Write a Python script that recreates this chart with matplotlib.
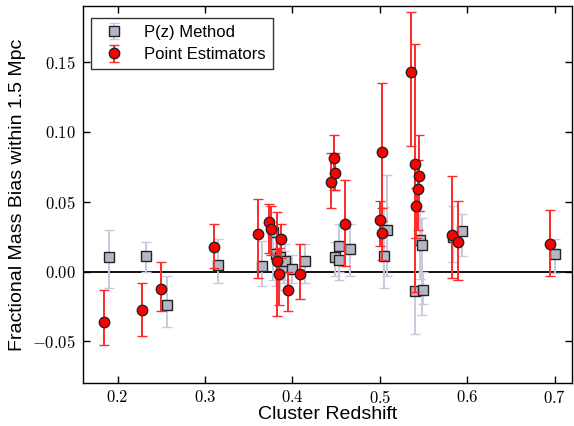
import numpy as np
import matplotlib
matplotlib.use("Agg")
from matplotlib import pyplot as plt
from matplotlib.ticker import FuncFormatter

plt.rcParams["mathtext.fontset"] = "cm"
plt.rcParams["font.family"] = ["Liberation Sans", "DejaVu Sans"]

# P(z) method: redshift, bias, lower bound, upper bound
pz_z = [0.190, 0.233, 0.256, 0.315, 0.365, 0.378, 0.381, 0.386, 0.390, 0.392,
        0.400, 0.414, 0.449, 0.453, 0.4535, 0.466, 0.505, 0.508, 0.5406, 0.5464,
        0.5478, 0.5493, 0.584, 0.594, 0.7005]
pz_y = [0.0103, 0.0113, -0.0237, 0.0048, 0.0039, 0.0283, 0.0127, 0.0103, 0.0030, 0.0077,
        0.0017, 0.0075, 0.0103, 0.0180, 0.0084, 0.0163, 0.0110, 0.0295, -0.0139, 0.0228,
        0.0190, -0.0134, 0.0250, 0.0287, 0.0125]
pz_lo = [-0.0120, 0.0000, -0.0395, -0.0083, -0.0100, -0.0060, -0.0100, -0.0130, -0.0080, -0.0060,
         -0.0080, -0.0083, -0.0030, -0.0060, 0.0000, -0.0030, -0.0120, -0.0030, -0.0448, -0.0050,
         -0.0310, -0.0230, 0.0065, 0.0113, -0.0007]
pz_hi = [0.0295, 0.0213, -0.0029, 0.0233, 0.0216, 0.0335, 0.0250, 0.0230, 0.0150, 0.0200,
         0.0120, 0.0197, 0.0210, 0.0340, 0.0200, 0.0343, 0.0460, 0.0690, 0.0240, 0.0430,
         0.0380, 0.0000, 0.0470, 0.0414, 0.0235]

# Point estimators
pe_z = [0.1845, 0.2274, 0.2502, 0.3104, 0.3603, 0.3728, 0.3755, 0.3820, 0.3850, 0.3869,
        0.3952, 0.4089, 0.4447, 0.4477, 0.4485, 0.4607, 0.4999, 0.5025, 0.5030, 0.5353,
        0.5406, 0.5418, 0.5433, 0.5448, 0.5824, 0.5893, 0.6951]
pe_y = [-0.0364, -0.0275, -0.0122, 0.0175, 0.0271, 0.0355, 0.0307, 0.0077, -0.0017, 0.0233,
        -0.0131, -0.0019, 0.0639, 0.0810, 0.0704, 0.0338, 0.0371, 0.0855, 0.0276, 0.1425,
        0.0767, 0.0472, 0.0592, 0.0685, 0.0261, 0.0213, 0.0197]
pe_lo = [-0.0522, -0.0460, -0.0280, 0.0024, -0.0048, 0.0130, 0.0120, -0.0320, -0.0240, 0.0100,
         -0.0280, -0.0196, 0.0458, 0.0580, 0.0580, 0.0043, 0.0180, 0.0360, 0.0084, 0.0898,
         -0.0144, 0.0240, 0.0300, 0.0430, -0.0043, -0.0060, -0.0031]
pe_hi = [-0.0131, -0.0079, 0.0065, 0.0343, 0.0522, 0.0480, 0.0470, 0.0424, 0.0170, 0.0340,
         0.0000, 0.0197, 0.0846, 0.0977, 0.0846, 0.0652, 0.0503, 0.1348, 0.0455, 0.1860,
         0.1630, 0.0600, 0.0800, 0.0975, 0.0682, 0.0508, 0.0438]


def asym_err(y, lo, hi):
    y, lo, hi = np.asarray(y), np.asarray(lo), np.asarray(hi)
    return np.vstack([y - lo, hi - y])


fig = plt.figure(figsize=(5.74, 4.26), dpi=100)
ax = fig.add_axes([0.144, 0.100, 0.8525, 0.886])

ax.axhline(0, color="black", linewidth=1.3, zorder=1)

ax.errorbar(pz_z, pz_y, yerr=asym_err(pz_y, pz_lo, pz_hi), fmt="s",
            ms=7.5, mfc="#b4b6c8", mec="#222222", mew=1.0,
            ecolor="#c9c9dd", elinewidth=1.4, capsize=3.5, capthick=1.4,
            label="P(z) Method", zorder=2)
ax.errorbar(pe_z, pe_y, yerr=asym_err(pe_y, pe_lo, pe_hi), fmt="o",
            ms=7.5, mfc="#ff0000", mec="#222222", mew=1.0,
            ecolor="#ff2a2a", elinewidth=1.4, capsize=3.5, capthick=1.4,
            label="Point Estimators", zorder=3)

ax.set_xlim(0.16, 0.72)
ax.set_ylim(-0.08, 0.19)
ax.set_xticks([0.2, 0.3, 0.4, 0.5, 0.6, 0.7])
ax.set_yticks([-0.05, 0.0, 0.05, 0.10, 0.15])
ax.xaxis.set_major_formatter(FuncFormatter(lambda v, p: f"${v:.1f}$"))
ax.yaxis.set_major_formatter(FuncFormatter(lambda v, p: f"${v:.2f}$"))
ax.tick_params(direction="in", length=5, width=1.0, top=True, right=True,
               labelsize=12, pad=5)
ax.tick_params(axis="x", pad=4)
for s in ax.spines.values():
    s.set_linewidth(1.0)

ax.set_xlabel("Cluster Redshift", fontsize=14, labelpad=0)
ax.set_ylabel("Fractional Mass Bias within 1.5 Mpc", fontsize=14, labelpad=4)

leg = ax.legend(loc="upper left", fancybox=False, edgecolor="black",
                fontsize=12, borderpad=0.4, handletextpad=0.8, labelspacing=0.45,
                bbox_to_anchor=(0.0, 0.99))
leg.get_frame().set_linewidth(1.0)

fig.savefig("out.png", dpi=100)
